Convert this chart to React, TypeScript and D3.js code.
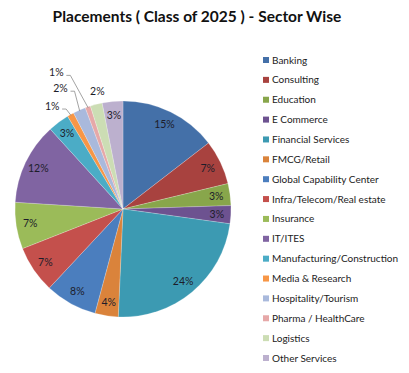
import React from "react";
import * as d3 from "d3";

const categories = [
  "Banking",
  "Consulting",
  "Education",
  "E Commerce",
  "Financial Services",
  "FMCG/Retail",
  "Global Capability Center",
  "Infra/Telecom/Real estate",
  "Insurance",
  "IT/ITES",
  "Manufacturing/Construction",
  "Media & Research",
  "Hospitality/Tourism",
  "Pharma / HealthCare",
  "Logistics",
  "Other Services",
];
const shares = [14.6, 6.7, 3.3, 2.7, 23.6, 3.5, 7.8, 7.1, 7.0, 12.3, 3.2, 1.0, 1.9, 0.8, 1.8, 3.1];
const shareLabels = ["15%", "7%", "3%", "3%", "24%", "4%", "8%", "7%", "7%", "12%", "3%", "1%", "2%", "1%", "2%", "3%"];
const colors = [
  "#4470A8", "#A8423F", "#88A64B", "#6D5290", "#3C9AB2", "#DA833B",
  "#4B7EBE", "#C4504C", "#9BBB59", "#8064A2", "#4BACC6", "#F79646",
  "#A9B9DC", "#E6A8A8", "#CCDDB4", "#BCB0CE",
];
const title = "Placements ( Class of 2025 ) - Sector Wise";

// layout for labels placed outside the pie (index -> radius, angle shift in degrees, leader)
const outsideLayout: Record<number, { r: number; da: number; leader: boolean }> = {
  11: { r: 125, da: -5.5, leader: true },
  12: { r: 136, da: -3.5, leader: true },
  13: { r: 152, da: -7, leader: true },
  14: { r: 120, da: 2, leader: false },
};

const W = 409;
const H = 373;
const cx = 123;
const cy = 209;
const R = 108;
const labelR = 94;
const FONT = "Lato, 'Open Sans', sans-serif";

export default function App() {
  const pie = d3.pie<number>().sort(null).value((d) => d)(shares);
  const arc = d3.arc<d3.PieArcDatum<number>>().innerRadius(0).outerRadius(R);
  const legendY = d3.scaleLinear().domain([0, categories.length - 1]).range([60, 358]);

  const polar = (r: number, a: number): [number, number] => [Math.sin(a) * r, -Math.cos(a) * r];

  return (
    <svg
      width={W}
      height={H}
      style={{ position: "absolute", left: 0, top: 0, background: "#fff" }}
      fontFamily={FONT}
    >
      <rect width={W} height={H} fill="#fff" />
      <text x={197} y={22} textAnchor="middle" fontWeight="bold" fontSize={15.5} fill="#111">
        {title}
      </text>
      <g transform={`translate(${cx},${cy})`}>
        {pie.map((d, i) => (
          <path key={i} d={arc(d) || ""} fill={colors[i]} stroke="#ffffff" strokeOpacity={0.35} strokeWidth={0.6} />
        ))}
        {pie.map((d, i) => {
          const mid = (d.startAngle + d.endAngle) / 2;
          const o = outsideLayout[i];
          if (!o) {
            const [x, y] = polar(labelR, mid);
            return (
              <text key={"l" + i} x={x} y={y} dy="0.35em" textAnchor="middle" fontSize={10.5} fill="#1d1d2a">
                {shareLabels[i]}
              </text>
            );
          }
          const [x, y] = polar(o.r, mid + (o.da * Math.PI) / 180);
          const [ex, ey] = polar(R - 1, mid);
          const tx = x + 10;
          const ty = y + 3;
          return (
            <g key={"l" + i}>
              {o.leader && (
                <polyline
                  points={`${tx},${ty} ${tx + 4},${ty} ${ex},${ey}`}
                  fill="none"
                  stroke="#8c8c8c"
                  strokeWidth={0.8}
                />
              )}
              <text x={x} y={y} dy="0.35em" textAnchor="middle" fontSize={10.5} fill="#1d1d2a">
                {shareLabels[i]}
              </text>
            </g>
          );
        })}
      </g>
      <g>
        {categories.map((c, i) => (
          <g key={c} transform={`translate(263,${legendY(i)})`}>
            <rect x={0} y={-3} width={6} height={6} fill={colors[i]} />
            <text x={9} y={0} dy="0.35em" fontSize={10} fill="#222">
              {c}
            </text>
          </g>
        ))}
      </g>
    </svg>
  );
}
